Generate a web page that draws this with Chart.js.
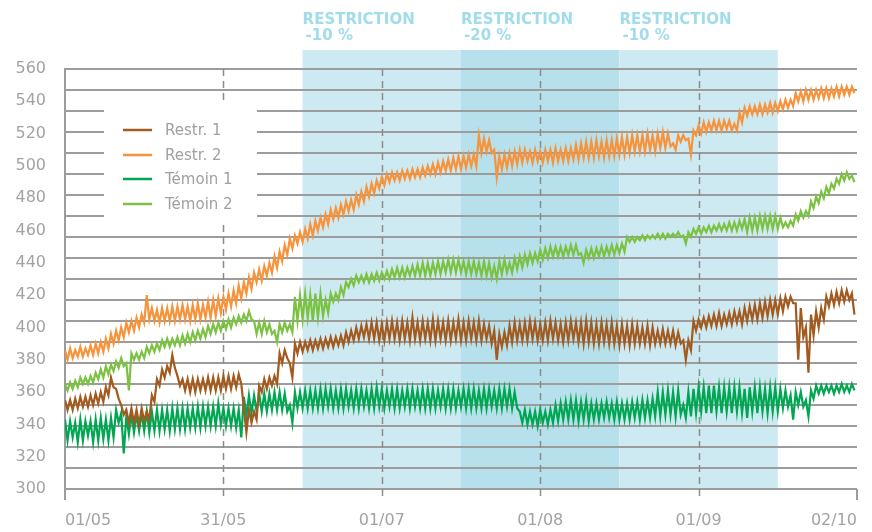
<!DOCTYPE html>
<html><head><meta charset="utf-8">
<script src="https://cdn.jsdelivr.net/npm/chart.js@4.4.1/dist/chart.umd.min.js"></script>
<style>html,body{margin:0;padding:0;background:#fff;} canvas{background:#fff;}</style>
</head><body>
<canvas id="c" width="872" height="532"></canvas>
<script>
const dateLabels = ['01/05','31/05','01/07','01/08','01/09','02/10'];
const tickPositions = [0,62,124,186,248,310];
const gridDivisions = 20;
const seriesNames = ['Restr. 1','Restr. 2','Témoin 1','Témoin 2'];
const seriesColors = ['#a25a1e','#f7933b','#00a651','#7cc242'];
const bandStarts = [93,155,217];
const bandEnds = [155,217,279];
const bandColors = ['#cdeaf2','#b6e1ec','#cdeaf2'];
const bandTitles = ['RESTRICTION','RESTRICTION','RESTRICTION'];
const bandSubtitles = ['-10 %','-20 %','-10 %'];

// two readings per day (high, low)
const restr1 = [
355,349,355,349,356,350,357,351,357,351,358,352,359,353,360,354,363,358,369,363,
362,356,352,346,349,341,350,341,349,340,350,342,348,343,358,354,368,364,374,369,
376,372,383,375,370,364,368,361,368,360,368,360,368,361,368,361,369,361,369,361,
369,361,370,362,370,362,370,363,371,365,350,335,349,341,348,343,364,360,368,362,
369,364,370,365,384,378,386,381,378,369,390,384,391,385,391,386,392,386,392,387,
393,387,393,388,394,388,394,389,395,389,397,391,398,392,400,393,401,394,402,393,
403,393,403,392,402,392,403,393,404,393,403,392,404,393,403,392,406,393,403,392,
404,393,403,392,405,392,404,393,403,392,404,392,403,393,405,392,403,392,404,393,
403,392,404,392,402,393,401,390,398,380,396,388,397,389,401,391,403,392,402,392,
403,392,404,393,403,392,402,392,403,392,404,393,403,392,402,391,403,392,404,393,
403,391,403,390,404,391,403,390,402,390,403,391,402,390,403,390,401,389,402,390,
401,389,402,390,401,390,400,390,401,389,400,390,398,390,399,390,398,390,398,389,
397,390,392,380,392,386,404,398,405,400,406,400,407,401,408,401,409,401,408,402,
409,402,410,403,410,402,412,404,413,405,414,405,415,406,416,407,417,408,417,408,
418,410,419,413,419,415,415,380,412,394,400,372,408,395,410,400,412,405,419,413,
421,414,422,415,423,416,423,417,421,408
];
const restr2 = [
386,380,387,381,386,382,388,382,387,383,389,383,390,384,391,385,393,387,396,390,
398,392,400,394,403,397,404,398,406,400,408,403,420,405,412,404,411,403,412,404,
412,404,413,404,413,405,414,405,413,404,414,405,415,405,414,406,416,406,417,407,
418,409,419,411,421,413,423,415,426,418,428,421,431,424,434,428,436,429,438,432,
440,434,444,437,447,441,451,445,455,449,457,452,459,453,461,455,464,457,466,460,
468,462,470,464,473,467,474,468,476,470,478,472,479,473,482,476,484,478,487,481,
489,483,491,486,493,488,495,490,496,491,496,491,497,492,497,492,498,493,498,493,
499,494,500,495,501,495,502,496,503,497,504,497,505,498,506,498,506,499,507,500,
507,500,519,508,517,509,516,508,510,493,506,498,507,499,508,500,509,501,510,502,
510,503,509,502,510,503,509,502,510,503,510,502,511,503,510,503,511,503,511,504,
513,504,514,505,515,505,515,505,516,506,515,505,516,506,516,506,517,507,518,507,
518,508,519,509,519,509,519,509,520,510,519,509,520,511,521,511,520,512,514,510,
519,515,519,516,517,507,522,519,525,520,527,521,527,522,528,522,528,522,528,523,
528,522,526,522,533,527,536,531,537,532,537,532,538,532,538,533,539,533,539,534,
540,535,541,536,541,537,545,540,546,540,547,541,547,541,547,542,548,542,548,542,
548,543,549,543,549,544,549,544,549,545
];
const temoin1 = [
343,330,342,332,341,329,343,330,342,333,342,329,343,330,344,331,343,330,344,332,
349,341,347,322,345,334,346,335,346,336,347,336,348,335,348,336,349,336,349,337,
349,336,350,337,350,337,350,337,350,338,350,338,351,338,351,339,351,339,351,339,
353,340,350,339,350,339,350,338,349,332,357,345,358,347,358,348,359,348,359,348,
359,349,360,349,360,349,359,348,352,341,360,350,360,350,361,350,361,350,361,350,
362,350,362,351,362,350,361,350,362,350,362,351,361,350,362,350,362,351,361,350,
362,350,363,351,362,350,361,351,362,350,362,350,361,351,362,350,362,351,361,350,
362,350,362,350,362,350,361,351,362,350,362,350,362,350,361,351,362,350,362,350,
362,350,361,350,362,350,362,351,361,350,362,350,362,351,362,350,360,350,348,341,
349,340,348,340,348,339,349,341,348,340,349,341,352,342,353,343,354,343,355,343,
355,342,354,343,355,342,353,343,353,343,353,344,354,344,353,343,354,343,353,343,
353,343,354,344,354,343,355,344,355,344,356,345,360,345,360,346,361,346,360,345,
361,346,352,344,360,345,362,347,363,348,363,347,364,347,364,348,363,347,363,348,
363,347,363,348,363,347,362,344,363,348,363,347,363,348,362,347,363,348,363,348,
362,350,361,351,358,343,360,352,360,351,355,345,361,356,364,359,364,359,364,360,
364,359,364,360,365,360,364,360,365,361
];
const temoin2 = [
365,361,366,362,367,363,369,365,369,365,370,366,372,368,374,369,376,371,377,373,
379,375,381,376,378,361,384,380,384,380,385,381,388,384,389,385,390,386,392,388,
393,388,393,389,394,389,395,390,396,391,397,392,398,393,399,394,401,396,402,397,
403,398,404,399,405,400,406,402,407,403,408,404,410,405,404,396,403,396,404,397,
402,396,398,391,402,397,403,398,402,397,419,404,420,405,421,406,420,404,421,406,
421,407,417,409,421,416,421,417,425,420,428,425,430,426,432,428,432,428,433,428,
433,429,434,429,434,430,435,430,436,431,437,431,437,431,437,432,438,432,439,432,
440,432,440,432,440,433,441,433,441,434,442,434,442,434,442,434,441,433,441,433,
441,433,440,432,441,432,440,431,438,430,441,433,442,434,440,434,443,436,444,437,
445,439,446,440,446,441,448,442,449,443,450,444,450,444,450,444,450,445,451,445,
451,445,446,440,448,443,449,443,449,444,450,444,450,445,451,445,451,446,452,447,
456,453,456,453,456,454,457,454,457,455,457,455,458,455,458,455,458,456,458,456,
459,456,457,452,459,456,461,458,462,458,462,459,463,459,463,460,464,460,464,460,
465,460,465,460,466,461,467,459,468,460,468,460,469,461,469,461,469,461,469,461,
468,462,465,462,466,463,470,466,472,468,472,469,478,474,481,477,484,480,487,483,
489,486,492,489,495,491,496,492,494,490
];

const seriesValues = [restr1, restr2, temoin1, temoin2];
const FONT = '"DejaVu Sans"';

const backdrop = {
  id: 'backdrop',
  beforeDatasetsDraw(chart) {
    const ctx = chart.ctx, xs = chart.scales.x, ca = chart.chartArea;
    ctx.save();
    for (let i = 0; i < bandStarts.length; i++) {
      const x0 = xs.getPixelForValue(bandStarts[i]);
      const x1 = xs.getPixelForValue(bandEnds[i]);
      ctx.fillStyle = bandColors[i];
      ctx.fillRect(x0, ca.top - 19, x1 - x0, ca.bottom - ca.top + 19);
      ctx.fillStyle = '#a1dcea';
      ctx.font = 'bold 15px ' + FONT;
      ctx.textBaseline = 'middle';
      ctx.textAlign = 'left';
      ctx.fillText(bandTitles[i], x0, 20);
      ctx.fillText(bandSubtitles[i], x0 + 3, 36);
    }
    // horizontal grid, drawn as thin filled strips
    ctx.fillStyle = '#9c9c9c';
    const step = (ca.bottom - ca.top) / gridDivisions;
    for (let k = 0; k <= gridDivisions; k++) {
      const py = Math.round(ca.top + k * step);
      ctx.fillRect(ca.left, py - 1, ca.right - ca.left, 2);
    }
    const xr = xs.getPixelForValue(tickPositions[tickPositions.length - 1]);
    ctx.fillRect(ca.left - 1, ca.top - 1, 2, ca.bottom - ca.top + 12);
    ctx.fillRect(xr - 1, ca.bottom, 2, 11);
    ctx.strokeStyle = '#8c8c8c';
    ctx.lineWidth = 1.5;
    ctx.setLineDash([7, 5]);
    for (let i = 1; i < tickPositions.length - 1; i++) {
      const px = Math.round(xs.getPixelForValue(tickPositions[i])) + 0.5;
      ctx.beginPath();
      ctx.moveTo(px, ca.top); ctx.lineTo(px, ca.bottom + 11);
      ctx.stroke();
    }
    ctx.setLineDash([]);
    ctx.fillStyle = '#ffffff';
    ctx.fillRect(104, 100, 153, 125);
    const ys = [130, 155, 179, 204];
    chart.data.datasets.forEach((ds, i) => {
      ctx.strokeStyle = ds.borderColor;
      ctx.lineWidth = 2.5;
      ctx.beginPath();
      ctx.moveTo(123, ys[i]); ctx.lineTo(152, ys[i]);
      ctx.stroke();
      ctx.fillStyle = '#a0a0a0';
      ctx.font = '15px ' + FONT;
      ctx.textBaseline = 'middle';
      ctx.textAlign = 'left';
      ctx.fillText(ds.label, 165, ys[i] + 1);
    });
    ctx.restore();
  }
};

new Chart(document.getElementById('c'), {
  type: 'line',
  data: {
    datasets: seriesNames.map((name, k) => ({
      label: name,
      data: seriesValues[k].map((v, i) => ({x: i, y: v})),
      borderColor: seriesColors[k],
      borderWidth: 2.2,
      pointRadius: 0,
      tension: 0,
      fill: false
    }))
  },
  options: {
    responsive: false,
    animation: false,
    devicePixelRatio: 1,
    layout: {padding: {top: 69, right: 15, left: 0, bottom: 0}},
    plugins: {legend: {display: false}, tooltip: {enabled: false}},
    scales: {
      x: {
        type: 'linear', min: 0, max: 310,
        afterBuildTicks(s) { s.ticks = tickPositions.map(v => ({value: v})); },
        ticks: {align: 'inner', autoSkip: false, maxRotation: 0,
          callback: (v, i) => dateLabels[i],
          color: '#a3a3a3', font: {family: 'DejaVu Sans', size: 16}, padding: 22},
        grid: {display: false, drawTicks: false},
        border: {display: false},
        afterFit(s) { s.height = 43; s.paddingLeft = 0; s.paddingRight = 0; }
      },
      y: {
        type: 'linear', position: 'left', min: 300, max: 560,
        ticks: {stepSize: 20, maxTicksLimit: 30, color: '#a3a3a3',
          font: {family: 'DejaVu Sans', size: 16}, padding: 19},
        grid: {display: false, drawTicks: false},
        border: {display: false},
        afterFit(s) { s.width = 65; }
      }
    }
  },
  plugins: [backdrop]
});
</script>
</body></html>
